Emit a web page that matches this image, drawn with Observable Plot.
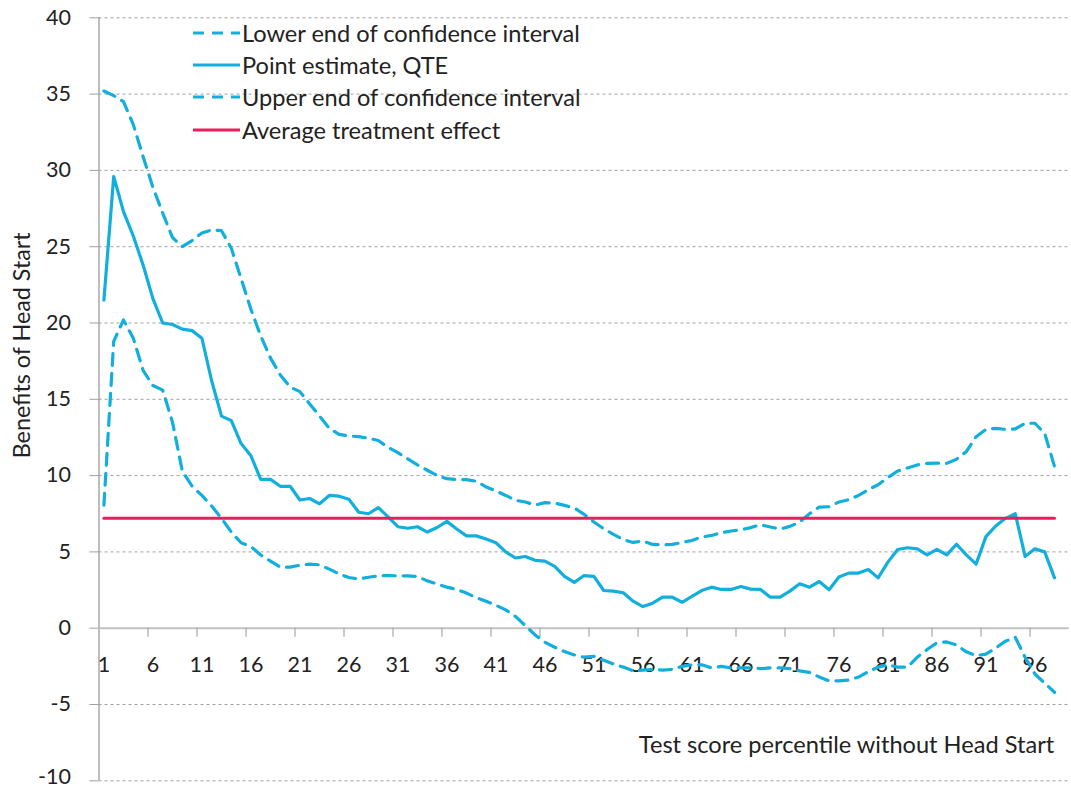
<!DOCTYPE html>
<html>
<head>
<meta charset="utf-8">
<script src="https://cdn.jsdelivr.net/npm/d3@7"></script>
<script src="https://cdn.jsdelivr.net/npm/@observablehq/plot@0.6"></script>
<style>
  body { margin: 0; background: #fff; }
  #wrap { position: relative; width: 1071px; height: 790px; font-family: Lato, "Open Sans", sans-serif; color: #222; }
  #legend { position: absolute; left: 193px; top: 17px; }
  .row { display: flex; align-items: center; height: 32.2px; font-size: 23.6px; white-space: nowrap; }
  .row svg { width: 47px; height: 6px; margin-right: 2px; flex: none; }
</style>
</head>
<body>
<div id="wrap"><div id="legend"></div></div>
<script>
// Percentile categories (1..98)
const percentiles = d3.range(1, 99);

const lowerCI = [
  8.06, 18.8, 20.2, 19.0, 16.9, 15.9, 15.6, 13.5, 10.3, 9.3,
  8.7, 8.0, 7.2, 6.3, 5.6, 5.35, 4.8, 4.4, 4.0, 4.0,
  4.13, 4.2, 4.15, 3.87, 3.56, 3.32, 3.23, 3.34, 3.43, 3.45,
  3.43, 3.43, 3.38, 3.1, 2.9, 2.69, 2.54, 2.3, 2.0, 1.77,
  1.5, 1.2, 0.77, 0.17, -0.44, -0.92, -1.25, -1.53, -1.75, -1.9,
  -1.84, -2.1, -2.35, -2.55, -2.8, -2.75, -2.7, -2.75, -2.7, -2.5,
  -2.4, -2.4, -2.6, -2.5, -2.6, -2.6, -2.6, -2.65, -2.6, -2.6,
  -2.65, -2.8, -2.9, -3.2, -3.45, -3.45, -3.4, -3.2, -2.85, -2.55,
  -2.4, -2.55, -2.55, -1.9, -1.4, -0.95, -0.9, -1.1, -1.55, -1.8,
  -1.7, -1.3, -0.85, -0.6, -1.9, -3.0, -3.6, -4.2
];

const pointQTE = [
  21.5, 29.6, 27.3, 25.7, 23.8, 21.6, 20.0, 19.9, 19.6, 19.5,
  19.0, 16.2, 13.9, 13.6, 12.1, 11.3, 9.75, 9.75, 9.3, 9.3,
  8.4, 8.5, 8.15, 8.7, 8.65, 8.45, 7.6, 7.5, 7.9, 7.3,
  6.65, 6.55, 6.65, 6.3, 6.6, 7.0, 6.5, 6.05, 6.05, 5.85,
  5.6, 5.0, 4.6, 4.7, 4.45, 4.4, 4.05, 3.4, 3.0, 3.45,
  3.4, 2.47, 2.43, 2.32, 1.77, 1.42, 1.64, 2.03, 2.03, 1.7,
  2.08, 2.47, 2.69, 2.54, 2.54, 2.73, 2.56, 2.54, 2.03, 2.03,
  2.43, 2.91, 2.69, 3.06, 2.52, 3.35, 3.61, 3.61, 3.85, 3.3,
  4.33, 5.16, 5.27, 5.2, 4.8, 5.16, 4.8, 5.5, 4.8, 4.2,
  6.0, 6.7, 7.2, 7.5, 4.7, 5.2, 5.0, 3.3
];

const upperCI = [
  35.2, 34.9, 34.5, 33.0, 30.9, 28.9, 27.2, 25.6, 25.0, 25.4,
  25.9, 26.1, 26.05, 24.9, 22.9, 20.9, 19.15, 17.7, 16.6, 15.8,
  15.5, 14.7, 13.9, 13.1, 12.7, 12.6, 12.55, 12.45, 12.3, 11.85,
  11.5, 11.1, 10.7, 10.35, 10.0, 9.8, 9.74, 9.74, 9.63, 9.26,
  9.0, 8.7, 8.38, 8.27, 8.07, 8.23, 8.2, 8.05, 7.88, 7.46,
  6.96, 6.52, 6.15, 5.8, 5.62, 5.71, 5.49, 5.47, 5.49, 5.62,
  5.75, 5.97, 6.08, 6.26, 6.37, 6.45, 6.59, 6.78, 6.63, 6.5,
  6.67, 6.96, 7.5, 7.94, 7.96, 8.27, 8.42, 8.7, 9.08, 9.4,
  9.87, 10.3, 10.5, 10.7, 10.8, 10.82, 10.8, 11.07, 11.57, 12.55,
  13.03, 13.1, 13.03, 13.06, 13.43, 13.43, 12.77, 10.6
];

const averageTreatmentEffect = 7.2;

const yTicks = [-10, -5, 0, 5, 10, 15, 20, 25, 30, 35, 40];
const xTickLabels = [1, 6, 11, 16, 21, 26, 31, 36, 41, 46, 51, 56, 61, 66, 71, 76, 81, 86, 91, 96];
const xTickMarks = [5.5, 10.5, 15.5, 20.5, 25.5, 30.5, 35.5, 40.5, 45.5, 50.5, 55.5, 60.5, 65.5, 70.5, 75.5, 80.5, 85.5, 90.5, 95.5];

const seriesNames = ["Lower end of confidence interval", "Point estimate, QTE", "Upper end of confidence interval", "Average treatment effect"];

const BLUE = "#12afdc";
const PINK = "#e91e5e";
const DASH = "12,8";

const rows = percentiles.map((p, i) => ({ p, lower: lowerCI[i], qte: pointQTE[i], upper: upperCI[i], ate: averageTreatmentEffect }));

const yMin = d3.min(yTicks);
const axisOpts = { tickSize: 9, tickPadding: 19, fontSize: 21.5, label: null, stroke: "#a0a0a0", fill: "#222", tickFormat: d => String(d) };

const chart = Plot.plot({
  width: 1071,
  height: 790,
  marginTop: 17.3,
  marginBottom: 9.7,
  marginLeft: 98.5,
  marginRight: 2.3,
  x: { domain: [0.5, 99.5], axis: null },
  y: { domain: [-10, 40], axis: null },
  style: { fontFamily: "Lato, 'Open Sans', sans-serif", background: "#fff", color: "#222", overflow: "visible" },
  marks: [
    Plot.ruleY(yTicks.filter(d => d !== 0), { y: d => d, stroke: "#a0a0a0", strokeWidth: 1, strokeDasharray: "3,3" }),
    Plot.axisY({ ...axisOpts, ticks: yTicks.filter(d => d !== yMin) }),
    Plot.axisY({ ...axisOpts, ticks: [yMin], tickSize: 0, tickPadding: 28, dy: -4 }),
    Plot.axisY({ ...axisOpts, ticks: [yMin], tickFormat: () => "" }),
    Plot.ruleX([0.5], { x: d => d, stroke: "#9a9a9a", strokeWidth: 1.3 }),
    Plot.ruleY([0], { y: d => d, stroke: "#c2c2c2", strokeWidth: 2 }),
    Plot.ruleX(xTickMarks, { x: d => d, y1: 0, y2: -0.6, stroke: "#a8a8a8", strokeWidth: 1.2 }),
    Plot.text(xTickLabels, { x: d => d, y: 0, dy: 37, text: d => String(d), fontSize: 21.5, fill: "#222" }),
    Plot.line(rows, { x: "p", y: "lower", stroke: BLUE, strokeWidth: 3.2, strokeDasharray: DASH, strokeLinejoin: "round" }),
    Plot.line(rows, { x: "p", y: "qte", stroke: BLUE, strokeWidth: 3.2, strokeLinejoin: "round" }),
    Plot.line(rows, { x: "p", y: "upper", stroke: BLUE, strokeWidth: 3.2, strokeDasharray: DASH, strokeLinejoin: "round" }),
    Plot.line(rows, { x: "p", y: "ate", stroke: PINK, strokeWidth: 3 }),
    Plot.text(["Benefits of Head Start"], { frameAnchor: "left", text: d => d, rotate: -90, textAnchor: "middle", lineAnchor: "middle", dx: -76.5, dy: -54, fontSize: 23.3, fill: "#222" }),
    Plot.text(["Test score percentile without Head Start"], { frameAnchor: "bottom-right", text: d => d, textAnchor: "end", lineAnchor: "middle", dx: -15, dy: -35, fontSize: 23.6, fill: "#222" })
  ]
});

const wrap = document.getElementById("wrap");
wrap.insertBefore(chart, wrap.firstChild);

// Legend
const legendStyles = [
  { color: BLUE, dash: "11,8" },
  { color: BLUE, dash: null },
  { color: BLUE, dash: "11,8" },
  { color: PINK, dash: null }
];
const legend = document.getElementById("legend");
seriesNames.forEach((name, i) => {
  const row = document.createElement("div");
  row.className = "row";
  const s = legendStyles[i];
  row.innerHTML = `<svg viewBox="0 0 47 6"><line x1="0" y1="3" x2="47" y2="3" stroke="${s.color}" stroke-width="3.2" ${s.dash ? `stroke-dasharray="${s.dash}"` : ""}/></svg><span>${name}</span>`;
  legend.appendChild(row);
});
</script>
</body>
</html>
